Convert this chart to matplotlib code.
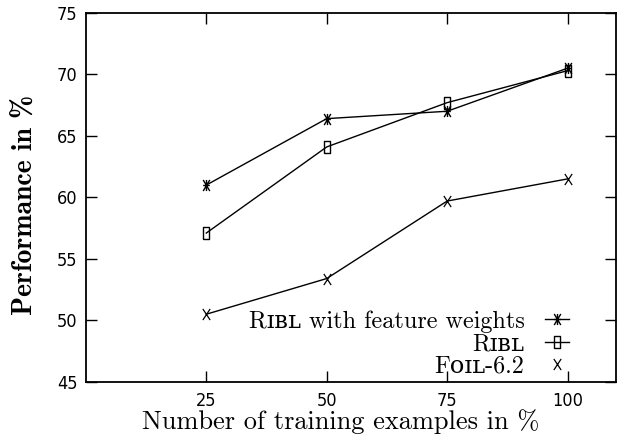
import matplotlib
matplotlib.use("Agg")
import matplotlib.pyplot as plt
from matplotlib.lines import Line2D
from matplotlib.path import Path

# training set size (%)
sizes = [25, 50, 75, 100]

ribl_fw = [61.0, 66.4, 67.0, 70.5]
ribl = [57.1, 64.1, 67.7, 70.3]
foil = [50.5, 53.4, 59.7, 61.5]

labels = ["R\u026a\u0299\u029f with feature weights", "R\u026a\u0299\u029f", "F\u1d0f\u026a\u029f-6.2"]
y_ticks = [45, 50, 55, 60, 65, 70, 75]

serif = ["cmr10", "DejaVu Serif"]

# gnuplot-like point shapes, a bit taller than wide
M, L = Path.MOVETO, Path.LINETO
star = Path([(0, -0.5), (0, 0.5), (-0.3, -0.5), (0.3, 0.5), (-0.3, 0.5), (0.3, -0.5), (-0.3, 0), (0.3, 0)],
            [M, L, M, L, M, L, M, L])
box = Path([(-0.25, -0.5), (0.25, -0.5), (0.25, 0.5), (-0.25, 0.5), (-0.25, -0.5)], [M, L, L, L, L])
cross = Path([(-0.33, -0.5), (0.33, 0.5), (-0.33, 0.5), (0.33, -0.5)], [M, L, M, L])

fig = plt.figure(figsize=(6.27, 4.43), dpi=100)
ax = fig.add_axes([0.137, 0.138, 0.845, 0.833])

l1, = ax.plot(sizes, ribl_fw, color="black", lw=1.0, marker=star, ms=8, mew=1.0)
l2, = ax.plot(sizes, ribl, color="black", lw=1.0, marker=box, ms=8, mfc="none", mew=1.0)
l3, = ax.plot(sizes, foil, color="black", lw=1.0, marker=cross, ms=8, mew=0.9)

ax.set_xlim(0, 110)
ax.set_ylim(45, 75)
ax.set_xticks(sizes)
ax.set_yticks(y_ticks)
ax.tick_params(direction="in", length=8, width=1.0, top=True, right=True)
ax.tick_params(axis="x", pad=7)
ax.tick_params(axis="y", pad=6)
for t in ax.get_xticklabels() + ax.get_yticklabels():
    t.set_fontfamily("DejaVu Sans")
    t.set_fontstretch("condensed")
    t.set_fontsize(13)
for s in ax.spines.values():
    s.set_linewidth(1.3)

ax.set_xlabel("Number of training examples in %", fontfamily=serif, fontsize=19)
ax.xaxis.set_label_coords(0.48, -0.075)
ax.set_ylabel("Performance in %", fontfamily=["cmb10", "DejaVu Serif"], fontsize=20)
ax.yaxis.set_label_coords(-0.09, 0.48)

h3 = Line2D([], [], color="black", ls="none", marker=cross, ms=8, mew=0.9)
leg = ax.legend([l1, l2, h3], labels, loc="lower right", bbox_to_anchor=(0.935, -0.02),
                frameon=False, markerfirst=False, handlelength=1.0, handletextpad=0.85,
                labelspacing=0.0, borderpad=0,
                prop={"family": serif, "size": 17.4})

fig.savefig("out.png", dpi=100)
